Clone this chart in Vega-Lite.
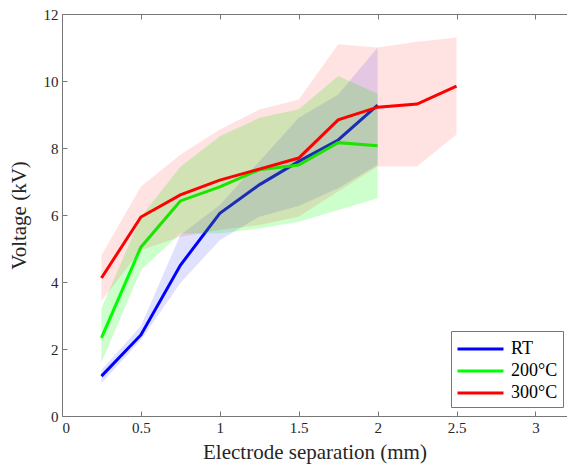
{
  "$schema": "https://vega.github.io/schema/vega-lite/v6.json",
  "width": 505,
  "height": 402,
  "autosize": "none",
  "padding": {"left": 62, "top": 14, "right": 0, "bottom": 56},
  "background": "white",
  "config": {
    "view": {"stroke": null},
    "font": "Liberation Serif",
    "axis": {"domainColor": "#777", "tickColor": "#777", "labelColor": "#262626", "titleColor": "#262626", "grid": false, "labelFont": "Liberation Serif", "titleFont": "Liberation Serif", "labelFontSize": 15, "titleFontSize": 21, "titleFontWeight": "normal", "tickSize": -5, "domainWidth": 1, "tickWidth": 1}
  },
  "data": {"values": [
    {"s": "RT", "d": 0.25, "v": 1.19, "lo": 0.98, "hi": 1.37},
    {"s": "RT", "d": 0.5, "v": 2.42, "lo": 2.27, "hi": 2.69},
    {"s": "RT", "d": 0.75, "v": 4.5, "lo": 3.97, "hi": 5.4},
    {"s": "RT", "d": 1.0, "v": 6.05, "lo": 5.25, "hi": 6.3},
    {"s": "RT", "d": 1.25, "v": 6.9, "lo": 5.95, "hi": 7.6},
    {"s": "RT", "d": 1.5, "v": 7.6, "lo": 6.27, "hi": 8.9},
    {"s": "RT", "d": 1.75, "v": 8.24, "lo": 6.8, "hi": 9.6},
    {"s": "RT", "d": 2.0, "v": 9.28, "lo": 7.5, "hi": 11.0},
    {"s": "200°C", "d": 0.25, "v": 2.33, "lo": 1.6, "hi": 3.22},
    {"s": "200°C", "d": 0.5, "v": 5.04, "lo": 4.35, "hi": 5.95},
    {"s": "200°C", "d": 0.75, "v": 6.42, "lo": 5.45, "hi": 7.44},
    {"s": "200°C", "d": 1.0, "v": 6.84, "lo": 5.45, "hi": 8.35},
    {"s": "200°C", "d": 1.25, "v": 7.35, "lo": 5.6, "hi": 8.9},
    {"s": "200°C", "d": 1.5, "v": 7.49, "lo": 5.8, "hi": 9.16},
    {"s": "200°C", "d": 1.75, "v": 8.16, "lo": 6.15, "hi": 10.15},
    {"s": "200°C", "d": 2.0, "v": 8.07, "lo": 6.5, "hi": 9.62},
    {"s": "300°C", "d": 0.25, "v": 4.12, "lo": 3.43, "hi": 4.8},
    {"s": "300°C", "d": 0.5, "v": 5.94, "lo": 4.95, "hi": 6.85},
    {"s": "300°C", "d": 0.75, "v": 6.6, "lo": 5.35, "hi": 7.8},
    {"s": "300°C", "d": 1.0, "v": 7.04, "lo": 5.55, "hi": 8.55},
    {"s": "300°C", "d": 1.25, "v": 7.37, "lo": 5.7, "hi": 9.15},
    {"s": "300°C", "d": 1.5, "v": 7.7, "lo": 5.95, "hi": 9.45},
    {"s": "300°C", "d": 1.75, "v": 8.84, "lo": 6.7, "hi": 11.1},
    {"s": "300°C", "d": 2.0, "v": 9.22, "lo": 7.45, "hi": 11.0},
    {"s": "300°C", "d": 2.25, "v": 9.31, "lo": 7.45, "hi": 11.17},
    {"s": "300°C", "d": 2.5, "v": 9.85, "lo": 8.4, "hi": 11.3}
  ]},
  "resolve": {"axis": {"x": "independent", "y": "independent"}},
  "layer": [
    {
      "transform": [{"filter": "datum.s === 'RT'"}],
      "mark": {"type": "area", "fillOpacity": 0.12},
      "encoding": {
        "x": {"field": "d", "type": "quantitative", "scale": {"domain": [0, 3.2], "nice": false}, "axis": {"orient": "bottom", "values": [0, 0.5, 1, 1.5, 2, 2.5, 3], "labelPadding": 9, "title": "Electrode separation (mm)", "titlePadding": 6, "labelExpr": "datum.value"}},
        "y": {"field": "lo", "type": "quantitative", "scale": {"domain": [0, 12], "nice": false}, "axis": {"orient": "left", "values": [0, 2, 4, 6, 8, 10, 12], "labelPadding": 9, "title": "Voltage (kV)", "titlePadding": 14}},
        "y2": {"field": "hi"},
        "color": {"field": "s", "type": "nominal", "scale": {"domain": ["RT", "200°C", "300°C"], "range": ["#0000FF", "#00FF00", "#FF0000"]}, "legend": {"title": null, "orient": "none", "legendX": 389, "legendY": 317, "symbolType": "M -1 0 H 3", "symbolSize": 529, "symbolStrokeWidth": 3, "symbolOpacity": 1, "labelFontSize": 18, "labelFont": "Liberation Serif", "labelColor": "#000", "strokeColor": "#777", "fillColor": "white", "padding": 5, "rowPadding": 0, "labelOffset": 29, "encode": {"symbols": {"update": {"opacity": {"value": 1}, "strokeOpacity": {"value": 1}}}}}}
      }
    },
    {
      "transform": [{"filter": "datum.s === 'RT'"}],
      "mark": {"type": "line", "strokeWidth": 3},
      "encoding": {
        "x": {"field": "d", "type": "quantitative", "axis": {"orient": "top", "values": [0, 0.5, 1, 1.5, 2, 2.5, 3], "labels": false, "title": null}},
        "y": {"field": "v", "type": "quantitative", "axis": null},
        "color": {"field": "s", "type": "nominal"}
      }
    },
    {
      "transform": [{"filter": "datum.s === '200°C'"}],
      "mark": {"type": "area", "fillOpacity": 0.2},
      "encoding": {
        "x": {"field": "d", "type": "quantitative", "axis": null},
        "y": {"field": "lo", "type": "quantitative", "axis": null},
        "y2": {"field": "hi"},
        "color": {"field": "s", "type": "nominal"}
      }
    },
    {
      "transform": [{"filter": "datum.s === '200°C'"}],
      "mark": {"type": "line", "strokeWidth": 3},
      "encoding": {
        "x": {"field": "d", "type": "quantitative", "axis": null},
        "y": {"field": "v", "type": "quantitative", "axis": null},
        "color": {"field": "s", "type": "nominal"}
      }
    },
    {
      "transform": [{"filter": "datum.s === '300°C'"}],
      "mark": {"type": "area", "fillOpacity": 0.11},
      "encoding": {
        "x": {"field": "d", "type": "quantitative", "axis": null},
        "y": {"field": "lo", "type": "quantitative", "axis": null},
        "y2": {"field": "hi"},
        "color": {"field": "s", "type": "nominal"}
      }
    },
    {
      "transform": [{"filter": "datum.s === '300°C'"}],
      "mark": {"type": "line", "strokeWidth": 3},
      "encoding": {
        "x": {"field": "d", "type": "quantitative", "axis": null},
        "y": {"field": "v", "type": "quantitative", "axis": null},
        "color": {"field": "s", "type": "nominal"}
      }
    }
  ]
}
